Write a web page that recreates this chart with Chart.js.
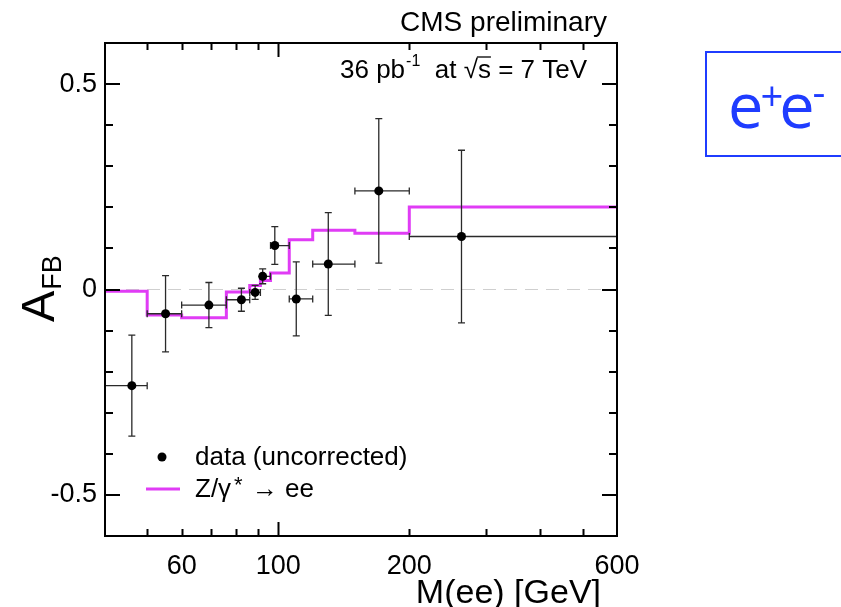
<!DOCTYPE html>
<html>
<head>
<meta charset="utf-8">
<script src="https://cdn.jsdelivr.net/npm/chart.js@4.4.0/dist/chart.umd.min.js"></script>
<style>
  html, body { margin: 0; padding: 0; background: #fff; }
  canvas { display: block; }
</style>
</head>
<body>
<canvas id="afbChart" width="841" height="607"></canvas>
<script>
// bin edges in M(ee) [GeV]
var binEdges = [40, 50, 60, 76, 86, 91, 96, 106, 120, 150, 200, 600];
// data points (uncorrected)
var dataMass = [46.1, 55.1, 69.3, 82.3, 88.5, 92.1, 98.2, 110, 130.3, 170.2, 263.6];
var dataAfb  = [-0.234, -0.059, -0.038, -0.025, -0.007, 0.032, 0.107, -0.023, 0.062, 0.240, 0.129];
var dataErr  = [0.123, 0.093, 0.055, 0.028, 0.017, 0.018, 0.046, 0.090, 0.125, 0.176, 0.210];
// Z/gamma* -> ee prediction, one value per bin
var mcAfb = [-0.004, -0.062, -0.069, -0.006, 0.010, 0.022, 0.040, 0.121, 0.144, 0.137, 0.201];

// axis ticks
var xTicks = [50, 60, 70, 80, 90, 100, 200, 300, 400, 500];
var xLabels = [60, 100, 200, 600];
var yTicks = [-0.5, -0.4, -0.3, -0.2, -0.1, 0, 0.1, 0.2, 0.3, 0.4, 0.5];
var yLabels = [-0.5, 0, 0.5];

var FONT = "'Liberation Sans', Arial, Helvetica, sans-serif";
var MAGENTA = '#e03cf5';

// step line: left edge of each bin + the last right edge
var mcPoints = [];
for (var i = 0; i < mcAfb.length; i++) mcPoints.push({x: binEdges[i], y: mcAfb[i]});
mcPoints.push({x: binEdges[binEdges.length - 1], y: mcAfb[mcAfb.length - 1]});

var dataPoints = [];
for (var j = 0; j < dataMass.length; j++) {
  dataPoints.push({x: dataMass[j], y: dataAfb[j], xl: binEdges[j], xh: binEdges[j + 1], e: dataErr[j]});
}

function near(a, b) { return Math.abs(a - b) < 1e-6; }

var rootStyle = {
  id: 'rootStyle',
  beforeDatasetsDraw: function(chart) {
    var ctx = chart.ctx, a = chart.chartArea, y = chart.scales.y;
    var y0 = y.getPixelForValue(0);
    ctx.save();
    ctx.strokeStyle = '#cfcfcf';
    ctx.lineWidth = 1;
    ctx.setLineDash([13, 8]);
    ctx.beginPath();
    ctx.moveTo(a.left, y0);
    ctx.lineTo(a.right, y0);
    ctx.stroke();
    ctx.restore();
  },
  beforeDatasetDraw: function(chart, args) {
    if (args.index !== 0) return;
    var ctx = chart.ctx, xs = chart.scales.x, ys = chart.scales.y;
    ctx.save();
    ctx.strokeStyle = '#2a2a2a';
    ctx.lineWidth = 1.3;
    var cap = 3.5;
    dataPoints.forEach(function(p) {
      var px = xs.getPixelForValue(p.x), py = ys.getPixelForValue(p.y);
      var xl = xs.getPixelForValue(p.xl), xh = xs.getPixelForValue(p.xh);
      var yt = ys.getPixelForValue(p.y + p.e), yb = ys.getPixelForValue(p.y - p.e);
      ctx.beginPath();
      ctx.moveTo(xl, py); ctx.lineTo(xh, py);
      ctx.moveTo(xl, py - cap); ctx.lineTo(xl, py + cap);
      if (xh < chart.chartArea.right - 1) { ctx.moveTo(xh, py - cap); ctx.lineTo(xh, py + cap); }
      ctx.moveTo(px, yt); ctx.lineTo(px, yb);
      ctx.moveTo(px - cap, yt); ctx.lineTo(px + cap, yt);
      ctx.moveTo(px - cap, yb); ctx.lineTo(px + cap, yb);
      ctx.stroke();
    });
    ctx.restore();
  },
  afterDraw: function(chart) {
    var ctx = chart.ctx, a = chart.chartArea, xs = chart.scales.x, ys = chart.scales.y;
    ctx.save();
    // frame
    ctx.strokeStyle = '#000';
    ctx.lineWidth = 2;
    ctx.strokeRect(a.left, a.top, a.right - a.left, a.bottom - a.top);
    // inward ticks
    ctx.beginPath();
    xTicks.forEach(function(v) {
      var px = Math.round(xs.getPixelForValue(v)) + 0.5;
      var len = v === 100 ? 14 : 7;
      ctx.moveTo(px, a.bottom); ctx.lineTo(px, a.bottom - len);
      ctx.moveTo(px, a.top); ctx.lineTo(px, a.top + len);
    });
    ctx.stroke();
    ctx.beginPath();
    yTicks.forEach(function(v) {
      var py = Math.round(ys.getPixelForValue(v));
      var major = yLabels.some(function(l) { return near(l, v); });
      var len = major ? 15 : 8;
      ctx.moveTo(a.left, py); ctx.lineTo(a.left + len, py);
      ctx.moveTo(a.right, py); ctx.lineTo(a.right - len, py);
    });
    ctx.stroke();

    ctx.fillStyle = '#000';
    ctx.textBaseline = 'alphabetic';
    // header
    ctx.font = '28px ' + FONT;
    ctx.textAlign = 'right';
    ctx.fillText('CMS preliminary', 607, 31);

    // luminosity label
    ctx.textAlign = 'left';
    var x = 340, base = 78;
    ctx.font = '26px ' + FONT;
    ctx.fillText('36 pb', x, base); x += ctx.measureText('36 pb').width;
    ctx.font = '16px ' + FONT;
    ctx.fillText('-1', x + 1, base - 12); x += ctx.measureText('-1').width + 1;
    ctx.font = '26px ' + FONT;
    ctx.fillText('  at ', x, base); x += ctx.measureText('  at ').width;
    ctx.fillText('\u221A', x, base); x += ctx.measureText('\u221A').width;
    var sw = ctx.measureText('s').width;
    ctx.fillText('s', x, base);
    ctx.lineWidth = 1.3;
    ctx.beginPath(); ctx.moveTo(x - 1, base - 21); ctx.lineTo(x + sw, base - 21); ctx.stroke();
    x += sw;
    ctx.fillText(' = 7 TeV', x, base);

    // legend
    ctx.beginPath();
    ctx.arc(162, 457, 4.5, 0, Math.PI * 2);
    ctx.fill();
    ctx.font = '26px ' + FONT;
    ctx.textBaseline = 'middle';
    ctx.fillText('data (uncorrected)', 195, 458);
    ctx.strokeStyle = MAGENTA;
    ctx.lineWidth = 3;
    ctx.beginPath(); ctx.moveTo(146, 489); ctx.lineTo(180, 489); ctx.stroke();
    x = 195;
    ctx.fillText('Z/\u03B3', x, 490); x += ctx.measureText('Z/\u03B3').width;
    ctx.font = '22px ' + FONT;
    ctx.fillText('*', x + 3, 486); x += ctx.measureText('*').width + 5;
    ctx.font = '26px ' + FONT;
    ctx.fillText(' \u2192 ee', x, 490);

    // x title
    ctx.textBaseline = 'alphabetic';
    ctx.textAlign = 'right';
    ctx.font = '34px ' + FONT;
    ctx.fillText('M(ee) [GeV]', 601, 603);

    // y title
    ctx.save();
    ctx.translate(54, 322);
    ctx.rotate(-Math.PI / 2);
    ctx.textAlign = 'left';
    ctx.font = '47px ' + FONT;
    ctx.fillText('A', 0, 0);
    var aw = ctx.measureText('A').width;
    ctx.font = '27px ' + FONT;
    ctx.fillText('FB', aw + 1, 7);
    ctx.restore();

    // e+e- box
    ctx.strokeStyle = '#1f3cff';
    ctx.fillStyle = '#1f3cff';
    ctx.lineWidth = 2;
    ctx.strokeRect(706, 52, 200, 104);
    ctx.textAlign = 'left';
    var big = "63px 'Open Sans', 'Noto Sans', sans-serif";
    var small = "40px 'Open Sans', 'Noto Sans', sans-serif";
    x = 728;
    ctx.font = big;
    ctx.fillText('e', x, 128); x += ctx.measureText('e').width;
    ctx.font = small;
    ctx.fillText('+', x - 3, 111); x += ctx.measureText('+').width - 7;
    ctx.font = big;
    ctx.fillText('e', x, 128); x += ctx.measureText('e').width;
    ctx.font = small;
    ctx.fillText('-', x - 2, 106);
    ctx.restore();
  }
};

var chart = new Chart(document.getElementById('afbChart').getContext('2d'), {
  type: 'scatter',
  data: {
    datasets: [{
      label: 'data (uncorrected)',
      data: dataPoints,
      pointRadius: 4.5,
      pointHoverRadius: 4.5,
      backgroundColor: '#000',
      borderColor: '#000',
      borderWidth: 0,
      order: 0
    }, {
      type: 'line',
      label: 'Z/\u03B3* \u2192 ee',
      data: mcPoints,
      stepped: 'before',
      borderColor: MAGENTA,
      borderWidth: 3,
      pointRadius: 0,
      fill: false,
      order: 1
    }]
  },
  options: {
    responsive: false,
    animation: false,
    events: [],
    layout: { padding: { top: 43, right: 224, left: 0, bottom: 0 } },
    plugins: { legend: { display: false }, tooltip: { enabled: false } },
    scales: {
      x: {
        type: 'logarithmic',
        min: 40,
        max: 600,
        grid: { display: false },
        border: { display: false },
        afterBuildTicks: function(s) {
          s.ticks = xLabels.concat(xTicks).filter(function(v, k, arr) { return arr.indexOf(v) === k; })
            .sort(function(p, q) { return p - q; }).map(function(v) { return {value: v}; });
        },
        afterFit: function(s) { s.height = 71; },
        ticks: {
          autoSkip: false,
          maxRotation: 0,
          padding: 6,
          color: '#000',
          font: { family: FONT, size: 27 },
          callback: function(v) { return xLabels.indexOf(v) >= 0 ? String(v) : ''; }
        }
      },
      y: {
        type: 'linear',
        min: -0.6,
        max: 0.6,
        grid: { display: false },
        border: { display: false },
        afterBuildTicks: function(s) {
          s.ticks = yLabels.map(function(v) { return {value: v}; });
        },
        afterFit: function(s) { s.width = 105; },
        ticks: {
          padding: 0,
          color: '#000',
          font: { family: FONT, size: 27 },
          callback: function(v) { return String(Math.round(v * 10) / 10); }
        }
      }
    }
  },
  plugins: [rootStyle]
});
</script>
</body>
</html>
